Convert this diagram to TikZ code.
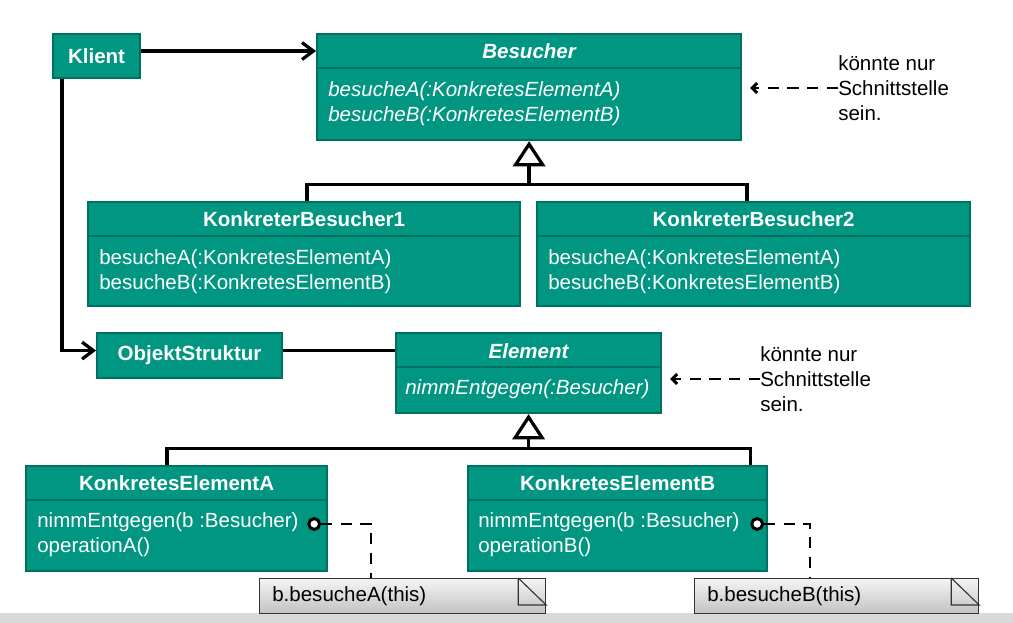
\documentclass[tikz,border=0pt]{standalone}
\usepackage{fontspec}
\setmainfont{Liberation Sans}
\usetikzlibrary{calc}
\usetikzlibrary{arrows.meta}

\definecolor{umlfill}{RGB}{0,150,130}
\definecolor{umledge}{RGB}{0,112,96}
\definecolor{bandgray}{RGB}{217,217,217}

\begin{document}
\begin{tikzpicture}[x=0.025cm, y=-0.025cm,
  box/.style={draw=umledge, fill=umlfill, line width=1.5pt, anchor=north west, inner sep=0pt},
  sep/.style={draw=umledge, line width=1.8pt},
  head/.style={text=white, inner sep=0pt, font=\fontsize{14.6}{18}\selectfont\bfseries},
  headi/.style={head, font=\fontsize{14.6}{18}\selectfont\bfseries\itshape},
  meth/.style={text=white, inner sep=0pt, anchor=west, align=left, font=\fontsize{14.6}{18}\selectfont},
  methi/.style={meth, font=\fontsize{14.6}{18}\selectfont\itshape},
  note/.style={inner sep=0pt, anchor=west, align=left, font=\fontsize{14.6}{18}\selectfont},
  memo/.style={draw=black!80, line width=0.8pt, top color=black!4, bottom color=black!24, anchor=north west, inner sep=0pt},
  conn/.style={line width=2.3pt},
  assoc/.style={conn, -{Straight Barb[length=8pt,width=12pt]}},
  inherit/.style={conn, -{Triangle[open,length=18pt,width=23pt]}},
  dep/.style={line width=2.1pt, dash pattern=on 8pt off 6pt, -{Straight Barb[length=3.5pt,width=7pt]}},
  link/.style={line width=2.1pt, dash pattern=on 8pt off 6pt},
  pin/.style={circle, draw, line width=2.1pt, fill=white, inner sep=0pt, minimum size=0.27cm}]

  \useasboundingbox (0,0) rectangle (1013,623);
  % bottom band
  \fill[bandgray] (0,613) rectangle (1013,623);

  % Klient
  \node[box, minimum width=2.175cm, minimum height=1.1cm] (klient) at (52,33) {};
  \node[head] (klientT) at (klient.center) {Klient};

  % Besucher
  \node[box, minimum width=10.6cm, minimum height=2.65cm] (besucher) at (316,33) {};
  \node[headi] (besucherT) at ($(besucher.north)+(0,18)$) {Besucher};
  \node[methi] (besucherM) at ($(besucher.north west)+(12,70.5)$)
    {besucheA(:KonkretesElementA)\\besucheB(:KonkretesElementB)};

  % KonkreterBesucher1 / 2
  \node[box, minimum width=10.8cm, minimum height=2.6cm] (kb1) at (87,201) {};
  \node[head] (kb1T) at ($(kb1.north)+(0,18)$) {KonkreterBesucher1};
  \node[meth] (kb1M) at ($(kb1.north west)+(12,70.5)$)
    {besucheA(:KonkretesElementA)\\besucheB(:KonkretesElementB)};
  \node[box, minimum width=10.825cm, minimum height=2.6cm] (kb2) at (536,201) {};
  \node[head] (kb2T) at ($(kb2.north)+(0,18)$) {KonkreterBesucher2};
  \node[meth] (kb2M) at ($(kb2.north west)+(12,70.5)$)
    {besucheA(:KonkretesElementA)\\besucheB(:KonkretesElementB)};

  % ObjektStruktur
  \node[box, minimum width=4.625cm, minimum height=1.125cm] (objekt) at (96,332) {};
  \node[head] (objektT) at (objekt.center) {ObjektStruktur};

  % Element
  \node[box, minimum width=6.625cm, minimum height=2cm] (element) at (395,332) {};
  \node[headi] (elementT) at ($(element.north)+(0,19)$) {Element};
  \node[methi] (elementM) at ($(element.north west)+(10,57)$) {nimmEntgegen(:Besucher)};

  % KonkretesElementA / B
  \node[box, minimum width=7.525cm, minimum height=2.625cm] (kea) at (25,465) {};
  \node[head] (keaT) at ($(kea.north)+(0,18)$) {KonkretesElementA};
  \node[meth] (keaM) at ($(kea.north west)+(12,70)$) {nimmEntgegen(b :Besucher)\\operationA()};
  \node[box, minimum width=7.475cm, minimum height=2.625cm] (keb) at (467,465) {};
  \node[head] (kebT) at ($(keb.north)+(0,18)$) {KonkretesElementB};
  \node[meth] (kebM) at ($(keb.north west)+(11,70)$) {nimmEntgegen(b :Besucher)\\operationB()};

  % compartment lines
  \foreach \c in {besucher,kb1,kb2,element,kea,keb}
    \draw[sep] ($(\c.north west)+(0,35)$) -- ($(\c.north east)+(0,35)$);

  % Notizen
  \node[memo, minimum width=7.15cm, minimum height=0.875cm] (noteA) at (259,578) {};
  \node[note] (noteAT) at ($(noteA.west)+(13,0)$) {b.besucheA(this)};
  \node[memo, minimum width=7.1cm, minimum height=0.875cm] (noteB) at (694,578) {};
  \node[note] (noteBT) at ($(noteB.west)+(13,0)$) {b.besucheB(this)};
  \foreach \n in {noteA,noteB}
    \draw[black!80, line width=0.8pt] ($(\n.north east)+(-28,0)$) |- ($(\n.north east)+(0,27)$)
      -- ($(\n.north east)+(-28,0)$);

  % Schnittstelle hints
  \node[note] (hint1) at (838,88) {könnte nur\\Schnittstelle\\sein.};
  \node[note] (hint2) at (760,379) {könnte nur\\Schnittstelle\\sein.};
  \draw[dep] (hint1.west) -- ($(besucher.east |- hint1.west)+(8,0)$);
  \draw[dep] (hint2.west) -- ($(element.east |- hint2.west)+(8,0)$);

  % associations
  \draw[assoc] ($(klient.east)+(0,-5)$) -- ($(besucher.west |- klient.east)+(0,-5)$);
  \draw[assoc] ($(klient.south west)+(10,0)$) |- ($(objekt.west)+(0,-5)$);
  \coordinate (osR) at ($(objekt.east)+(0,-5)$);
  \draw[conn] (osR) -- (osR -| element.west);

  % generalisation
  \coordinate (hub1) at ($(besucher.south)+(0,43)$);
  \draw[conn] ($(kb1.north west)+(220,0)$) |- (hub1) -| ($(kb2.north west)+(211,0)$);
  \draw[inherit] (hub1) -- (besucher.south);
  \coordinate (hub2) at ($(element.south)+(0,34)$);
  \draw[conn] ($(kea.north west)+(142,0)$) |- (hub2) -| ($(keb.north east)+(-18,0)$);
  \draw[inherit] (hub2) -- (element.south);

  % note links
  \node[pin] (pinA) at ($(kea.north east)+(-14,59)$) {};
  \node[pin] (pinB) at ($(keb.north east)+(-11,59)$) {};
  \draw[link] (pinA.east) -| ($(noteA.north west)+(112,0)$);
  \draw[link] (pinB.east) -| ($(noteB.north west)+(116,0)$);
\end{tikzpicture}
\end{document}
